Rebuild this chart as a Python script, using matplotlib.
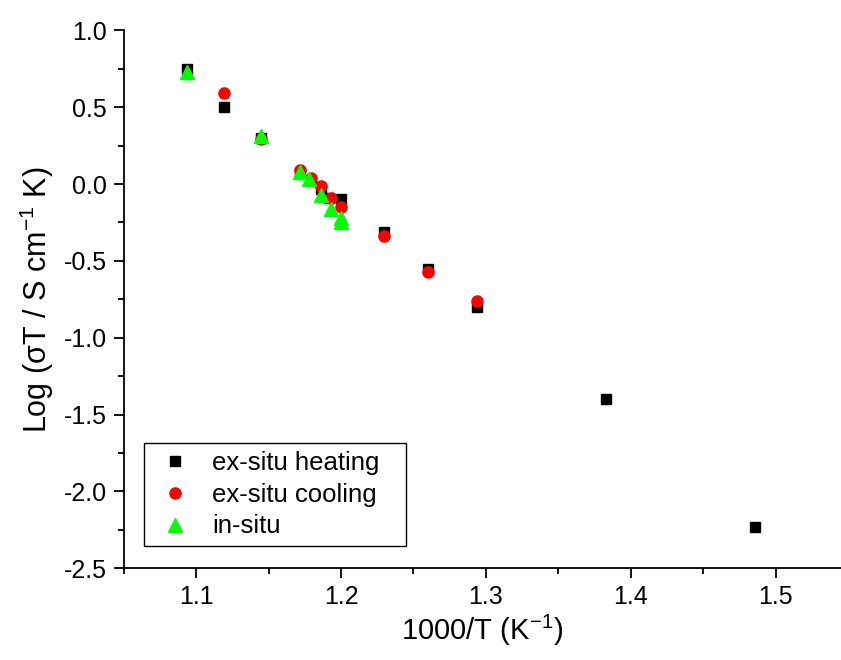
import matplotlib
matplotlib.use("Agg")
import matplotlib.pyplot as plt
from matplotlib.ticker import MultipleLocator

plt.rcParams['font.family'] = ['Liberation Sans', 'DejaVu Sans']
plt.rcParams['mathtext.default'] = 'regular'
plt.rcParams['axes.unicode_minus'] = False

# ex-situ heating
heat_x = [1.094, 1.119, 1.145, 1.172, 1.179, 1.186, 1.192, 1.200, 1.230, 1.260, 1.294, 1.383, 1.486]
heat_y = [0.75, 0.50, 0.30, 0.07, 0.02, -0.03, -0.09, -0.10, -0.31, -0.55, -0.80, -1.40, -2.23]

# ex-situ cooling
cool_x = [1.119, 1.145, 1.172, 1.179, 1.186, 1.193, 1.200, 1.230, 1.260, 1.294]
cool_y = [0.59, 0.29, 0.09, 0.04, -0.01, -0.09, -0.15, -0.34, -0.57, -0.76]

# in-situ
insitu_x = [1.094, 1.145, 1.172, 1.178, 1.186, 1.193, 1.200, 1.200]
insitu_y = [0.73, 0.31, 0.08, 0.03, -0.07, -0.16, -0.22, -0.25]

fig = plt.figure(figsize=(8.41, 6.6), dpi=100)
ax = fig.add_axes([0.147, 0.139, 0.853, 0.815])

ax.plot(heat_x, heat_y, 's', color='black', markersize=7.5, label='ex-situ heating', zorder=3)
ax.plot(cool_x, cool_y, 'o', color='red', markersize=8, label='ex-situ cooling', zorder=4)
ax.plot(insitu_x, insitu_y, '^', color='#00ff00', markersize=9.5, label='in-situ', zorder=5)

ax.set_xlim(1.05, 1.545)
ax.set_ylim(-2.5, 1.0)
ax.xaxis.set_major_locator(MultipleLocator(0.1))
ax.xaxis.set_minor_locator(MultipleLocator(0.05))
ax.yaxis.set_major_locator(MultipleLocator(0.5))
ax.yaxis.set_minor_locator(MultipleLocator(0.25))
ax.tick_params(which='major', direction='out', length=7, width=1.3, labelsize=18, pad=5)
ax.tick_params(which='minor', direction='out', length=4, width=1.3)

ax.spines['top'].set_visible(False)
ax.spines['right'].set_visible(False)
ax.spines['left'].set_linewidth(1.3)
ax.spines['bottom'].set_linewidth(1.3)

ax.set_xlabel('1000/T (K$^{-1}$)', fontsize=21, labelpad=3)
ax.set_ylabel('Log (σT / S cm$^{-1}$ K)', fontsize=22, labelpad=6)

ax.legend(loc='lower left', bbox_to_anchor=(0.028, 0.041, 0.365, 0.19), mode='expand',
          borderaxespad=0, fontsize=18.5, frameon=True, fancybox=False,
          edgecolor='black', borderpad=0.3, handletextpad=0.55, handlelength=1.8,
          labelspacing=0.3, framealpha=1)

fig.savefig('out.png', dpi=100)
